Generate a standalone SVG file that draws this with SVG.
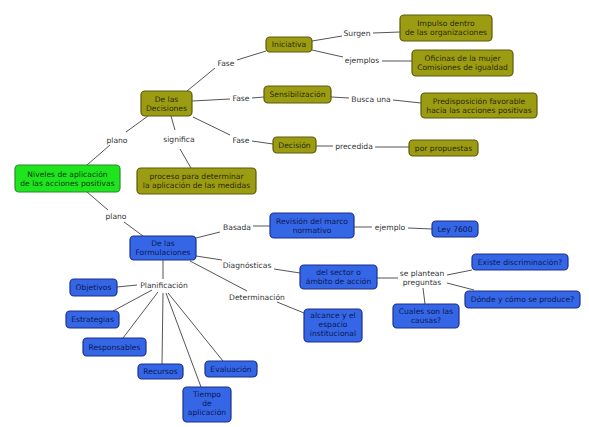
<svg xmlns="http://www.w3.org/2000/svg" width="589" height="427" viewBox="0 0 589 427">
<style>
text{font-family:"DejaVu Sans",Verdana,sans-serif;font-size:7.6px;text-anchor:middle}
.o rect{fill:#9c9c12;stroke:#5a5a0c;stroke-width:1.2}
.o text{fill:#2a2a08}
.g rect{fill:#1fe51f;stroke:#2b8a2b;stroke-width:1.2}
.g text{fill:#0e3a0e}
.b rect{fill:#3566e6;stroke:#1c2f8c;stroke-width:1.2}
.b text{fill:#0c1a55}
.lbl{fill:#333}
#connectors line{stroke:#555;stroke-width:1}
</style>
<rect width="589" height="427" fill="#fff"/>
<g id="connectors">
<line x1="187" y1="91" x2="215" y2="68"/>
<line x1="237" y1="60" x2="266" y2="51"/>
<line x1="312" y1="41" x2="342" y2="36"/>
<line x1="373" y1="33" x2="400" y2="32"/>
<line x1="312" y1="50" x2="343" y2="57"/>
<line x1="382" y1="61" x2="412" y2="61"/>
<line x1="192" y1="101" x2="230" y2="99"/>
<line x1="252" y1="98" x2="264" y2="97"/>
<line x1="331" y1="97" x2="349" y2="98"/>
<line x1="393" y1="100" x2="421" y2="103"/>
<line x1="193" y1="117" x2="230" y2="135"/>
<line x1="252" y1="141" x2="273" y2="144"/>
<line x1="316" y1="146" x2="333" y2="146"/>
<line x1="375" y1="147" x2="409" y2="147"/>
<line x1="148" y1="116" x2="126" y2="132"/>
<line x1="110" y1="145" x2="87" y2="165"/>
<line x1="171" y1="116" x2="175" y2="130"/>
<line x1="180" y1="149" x2="191" y2="168"/>
<line x1="87" y1="192" x2="108" y2="210"/>
<line x1="124" y1="222" x2="143" y2="236"/>
<line x1="196" y1="238" x2="220" y2="232"/>
<line x1="253" y1="226" x2="270" y2="226"/>
<line x1="354" y1="227" x2="372" y2="227"/>
<line x1="408" y1="228" x2="432" y2="229"/>
<line x1="196" y1="256" x2="222" y2="260"/>
<line x1="274" y1="269" x2="300" y2="273"/>
<line x1="190" y1="261" x2="247" y2="291"/>
<line x1="277" y1="302" x2="304" y2="313"/>
<line x1="377" y1="278" x2="398" y2="278"/>
<line x1="447" y1="275" x2="472" y2="270"/>
<line x1="447" y1="283" x2="474" y2="290"/>
<line x1="423" y1="288" x2="425" y2="304"/>
<line x1="163" y1="260" x2="163" y2="279"/>
<line x1="137" y1="285" x2="117" y2="287"/>
<line x1="152" y1="290" x2="113" y2="311"/>
<line x1="158" y1="292" x2="123" y2="338"/>
<line x1="163" y1="293" x2="162" y2="364"/>
<line x1="166" y1="293" x2="201" y2="387"/>
<line x1="168" y1="293" x2="223" y2="361"/>
</g>
<g id="labels" class="lbl">
<text class="lbl" x="226" y="66">Fase</text>
<text class="lbl" x="241" y="101">Fase</text>
<text class="lbl" x="241" y="143">Fase</text>
<text class="lbl" x="117" y="143">plano</text>
<text class="lbl" x="179" y="142">significa</text>
<text class="lbl" x="116" y="219">plano</text>
<text class="lbl" x="357" y="36">Surgen</text>
<text class="lbl" x="362" y="63">ejemplos</text>
<text class="lbl" x="371" y="102">Busca una</text>
<text class="lbl" x="354" y="149">precedida</text>
<text class="lbl" x="237" y="230">Basada</text>
<text class="lbl" x="247" y="268">Diagnósticas</text>
<text class="lbl" x="257" y="300">Determinación</text>
<text class="lbl" x="164" y="288">Planificación</text>
<text class="lbl" x="390" y="230">ejemplo</text>
<text class="lbl" x="422" y="276">se plantean</text>
<text class="lbl" x="422" y="285">preguntas</text>
</g>
<g id="n-iniciativa" class="o"><rect x="266" y="37" width="46" height="15" rx="4"/><text x="289" y="47.2">Iniciativa</text></g>
<g id="n-impulso" class="o"><rect x="400" y="15" width="92" height="26" rx="4"/><text x="446" y="26">Impulso dentro</text><text x="446" y="35">de las organizaciones</text></g>
<g id="n-oficinas" class="o"><rect x="412" y="50" width="101" height="26" rx="4"/><text x="462.5" y="61">Oficinas de la mujer</text><text x="462.5" y="70">Comisiones de igualdad</text></g>
<g id="n-sensibilizacion" class="o"><rect x="264" y="86" width="67" height="17" rx="4"/><text x="297.5" y="97.2">Sensibilización</text></g>
<g id="n-predisposicion" class="o"><rect x="421" y="93" width="116" height="25" rx="4"/><text x="479" y="103.5">Predisposición favorable</text><text x="479" y="112.5">hacia las acciones positivas</text></g>
<g id="n-decision" class="o"><rect x="273" y="137" width="43" height="16" rx="4"/><text x="294.5" y="147.7">Decisión</text></g>
<g id="n-propuestas" class="o"><rect x="409" y="140" width="69" height="16" rx="4"/><text x="443.5" y="150.7">por propuestas</text></g>
<g id="n-decisiones" class="o"><rect x="141" y="91" width="51" height="25" rx="4"/><text x="166.5" y="101.5">De las</text><text x="166.5" y="110.5">Decisiones</text></g>
<g id="n-proceso" class="o"><rect x="137" y="168" width="119" height="26" rx="4"/><text x="196.5" y="179">proceso para determinar</text><text x="196.5" y="188">la aplicación de las medidas</text></g>
<g id="n-niveles" class="g"><rect x="15" y="165" width="105" height="27" rx="4"/><text x="67.5" y="176.5">Niveles de aplicación</text><text x="67.5" y="185.5">de las acciones positivas</text></g>
<g id="n-formulaciones" class="b"><rect x="130" y="236" width="66" height="24" rx="4"/><text x="163" y="246">De las</text><text x="163" y="255">Formulaciones</text></g>
<g id="n-revision" class="b"><rect x="270" y="213" width="84" height="25" rx="4"/><text x="312" y="223.5">Revisión del marco</text><text x="312" y="232.5">normativo</text></g>
<g id="n-ley" class="b"><rect x="432" y="221" width="46" height="16" rx="4"/><text x="455" y="231.7">Ley 7600</text></g>
<g id="n-sector" class="b"><rect x="300" y="265" width="77" height="24" rx="4"/><text x="338.5" y="275">del sector o</text><text x="338.5" y="284">ámbito de acción</text></g>
<g id="n-existe" class="b"><rect x="472" y="254" width="96" height="16" rx="4"/><text x="520" y="264.7">Existe discriminación?</text></g>
<g id="n-donde" class="b"><rect x="465" y="291" width="115" height="17" rx="4"/><text x="522.5" y="302.2">Dónde y cómo se produce?</text></g>
<g id="n-causas" class="b"><rect x="393" y="304" width="66" height="24" rx="4"/><text x="426" y="314">Cuales son las</text><text x="426" y="323">causas?</text></g>
<g id="n-alcance" class="b"><rect x="304" y="309" width="58" height="33" rx="4"/><text x="333" y="318.2">alcance y el</text><text x="333" y="327.2">espacio</text><text x="333" y="336.2">institucional</text></g>
<g id="n-objetivos" class="b"><rect x="70" y="279" width="47" height="17" rx="4"/><text x="93.5" y="290.2">Objetivos</text></g>
<g id="n-estrategias" class="b"><rect x="66" y="311" width="53" height="17" rx="4"/><text x="92.5" y="322.2">Estrategias</text></g>
<g id="n-responsables" class="b"><rect x="83" y="338" width="63" height="18" rx="4"/><text x="114.5" y="349.7">Responsables</text></g>
<g id="n-recursos" class="b"><rect x="138" y="364" width="45" height="15" rx="4"/><text x="160.5" y="374.2">Recursos</text></g>
<g id="n-evaluacion" class="b"><rect x="205" y="361" width="52" height="16" rx="4"/><text x="231" y="371.7">Evaluación</text></g>
<g id="n-tiempo" class="b"><rect x="183" y="387" width="48" height="35" rx="4"/><text x="207" y="396.7">Tiempo</text><text x="207" y="405.7">de</text><text x="207" y="414.7">aplicación</text></g>
</svg>
